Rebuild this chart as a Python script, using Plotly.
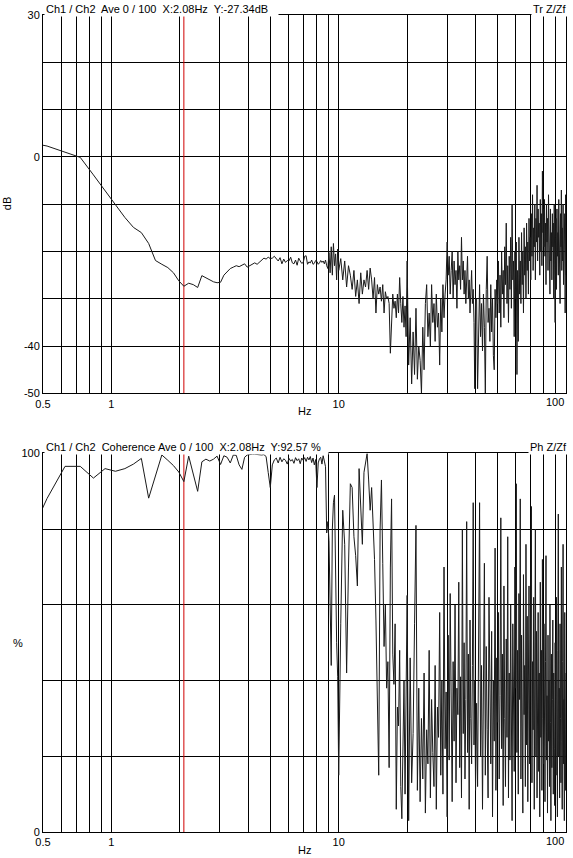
import numpy as np
import plotly.graph_objects as go

DF = 100 / 960  # analyser bin spacing, Hz

# transfer function magnitude (dB)
TR_LOW_DB = [  # bins 4..96, every bin
    3.2, 2.3, 1.0, -0.1, -3.8, -7.2, -10.0, -12.8, -14.9, -16.0,
    -18.3, -21.9, -22.7, -23.4, -24.5, -26.2, -27.34, -26.7, -27.0, -27.6,
    -25.1, -25.6, -26.1, -26.4, -26.6, -26.5, -25.0, -24.2, -23.6, -23.3,
    -23.0, -23.2, -22.9, -22.6, -23.3, -23.0, -22.6, -22.4, -22.7, -22.3,
    -21.9, -21.4, -21.6, -21.2, -21.5, -21.4, -21.0, -21.6, -22.0, -21.3,
    -22.6, -21.6, -22.3, -21.9, -22.0, -21.2, -22.4, -22.6, -21.8, -22.9,
    -21.4, -22.0, -22.5, -22.3, -21.0, -20.9, -22.7, -22.2, -22.4, -21.8,
    -22.7, -22.5, -21.9, -22.1, -22.7, -22.4, -21.9, -22.3, -22.0, -22.6,
    -21.8, -23.0, -23.6, -20.2, -24.5, -19.0, -25.0, -18.3, -23.0, -20.5,
    -26.0, -19.5, -24.0,
]
TR_MID_DB = [  # bins 98..192, every 2nd
    -21.5, -26, -22, -27.5, -23, -25, -28, -24, -29.5, -26,
    -31, -24.5, -29, -26, -27.5, -24, -28, -23.5, -26, -30,
    -25.5, -33, -27, -29, -27.5, -30.5, -27, -33, -28.5, -30,
    -29.5, -31, -41.5, -33, -29, -32, -30.5, -34, -29, -33,
    -25.5, -31, -35, -29.5, -36, -31.5, -38, -22,
]
TR_HI1_DB = [  # bins 195..384, every 3rd
    -44, -34, -48, -37, -46, -32, -47, -40, -43, -50, -36, -45, -31,
    -27, -38, -33, -40, -27, -35, -31, -39, -29, -36, -33, -44, -30,
    -37, -27, -34, -29, -26,
    -18, -25, -21, -29, -24, -20, -30, -22, -27, -24, -32, -20, -26,
    -23, -28, -17, -26, -22, -29, -24, -31, -25, -21, -30, -26, -33,
    -27, -24, -31, -28, -35, -49, -30,
]
TR_HI2_DB = [  # bins 388..960, every 4th
    -30, -49, -33, -27, -38, -31, -41, -29, -36, -50, -28, -21,
    -35, -32, -39, -27, -37, -30, -42, -45, -28, -34, -26, -31,
    -22, -33, -25, -36, -20, -29, -24, -34, -19, -27, -14, -31,
    -23, -35, -21, -28, -17, -32, -10, -26, -22, -38, -20, -30,
    -18, -46, -24, -39, -17, -29, -22, -31, -16, -27, -20, -33,
    -15, -25, -19, -30, -14, -24, -18, -29, -13, -22, -17, -26,
    -12, -21, -8, -24, -15, -19, -10, -26, -13, -18, -6, -22,
    -11, -17, -14, -25, -9, -20, -12, -23, -3, -16, -11, -19,
    -9, -21, -14, -27, -10, -18, -13, -24, -8, -20, -15, -29,
    -11, -22, -16, -26, -12, -19, -14, -30, -10, -23, -35, -17,
    -13, -28, -11, -21, -16, -25, -9, -23, -14, -31, -12, -19,
    -7, -24, -15, -22, -10, -27, -17, -20, -12, -33, -8, -25,
]

# coherence (%)
CO_LOW_PCT = [  # bins 4..96
    75.5, 88.1, 96.6, 96.6, 93.5, 96.0, 95.3, 96.0, 97.2, 98.7,
    88.2, 94.0, 99.6, 98.2, 96.8, 95.1, 92.57, 99.3, 94.5, 90.0,
    97.8, 98.5, 98.0, 98.5, 99.3, 97.1, 99.4, 99.0, 97.5, 99.6,
    99.5, 97.0, 95.8, 99.0, 99.6, 99.8, 99.8, 99.8, 99.7, 99.5,
    99.6, 99.7, 99.2, 95.0, 91.0, 97.0, 98.3, 98.8, 97.5, 99.0,
    97.8, 98.6, 98.2, 97.2, 98.7, 98.0, 98.4, 97.4, 98.9, 98.1,
    98.6, 97.3, 98.8, 98.2, 98.9, 97.9, 99.0, 98.3, 99.2, 97.6,
    98.8, 97.0, 98.4, 91.0, 97.5, 98.6, 99.0, 97.2, 99.4, 98.0,
    96.5, 79, 82, 77, 60, 44, 80, 87, 89, 62,
    50, 41, 15,
]
CO_MID_PCT = [  # bins 98..192, every 2nd
    55, 85, 76, 42, 70, 92, 91, 78, 73, 65,
    96, 84, 76, 95, 98, 100, 93, 85, 91, 81,
    72, 56, 30, 15, 80, 93, 71, 49, 60, 38,
    45, 17, 70, 88, 47, 39, 55, 6, 33, 28,
    48, 12, 3.5, 23, 40, 10, 35, 62.5,
]
CO_HI1_PCT = [  # bins 195..384, every 3rd
    3, 46, 13, 26, 55, 81, 11,
    38, 8, 30, 14, 42, 5, 27, 18, 48, 9, 35, 21, 12, 44, 6, 33, 25,
    58, 15, 40, 10, 70, 22, 37, 4,
    52, 19, 63, 28, 8, 45, 24, 60, 13, 38, 31, 66, 17, 41, 9, 80,
    26, 50, 14, 35, 82, 21, 47, 6, 56, 30, 18, 44, 87, 23, 40, 11,
]
CO_HI2_PCT = [  # bins 388..960, every 4th
    34, 12, 56, 87, 20, 44, 6, 38, 71, 15, 49, 27,
    9, 62, 31, 18, 53, 4, 40, 24, 75, 11, 46, 29,
    58, 14, 36, 83, 22, 47, 7, 65, 30, 12, 51, 25,
    78, 9, 42, 19, 60, 33, 3, 55, 28, 16, 70, 38,
    92, 21, 48, 10, 63, 35, 88, 14, 52, 26, 5, 68,
    31, 44, 12, 76, 23, 57, 8, 40, 65, 18, 34, 50,
    86, 13, 45, 27, 62, 6, 38, 80, 20, 53, 9, 33,
    58, 16, 42, 4, 66, 25, 48, 11, 72, 30, 18, 55,
    28, 8, 45, 73, 19, 36, 5, 52, 24, 40, 12, 60,
    29, 3, 47, 17, 35, 56, 10, 42, 22, 7, 50, 31,
    15, 62, 26, 4, 48, 84, 20, 38, 9, 55, 30, 13,
    70, 24, 6, 45, 76, 18, 35, 3, 58, 27, 11, 42,
]

SEGMENT_BINS = [(4, 96), (98, 192), (195, 384), (388, 960)]

CURSOR_HZ = 2.0833
GRID_HZ = [0.5, 0.6, 0.7, 0.8, 0.9, 1, 2, 3, 4, 5, 6, 7, 8, 9,
           10, 20, 30, 40, 50, 60, 70, 80, 90, 100]
HZ_LABELS = {0.5: "0.5", 1: "1", 10: "10"}
HZ_END_LABEL = "100"
DB_GRID = [-50, -40, -30, -20, -10, 0, 10, 20, 30]
DB_LABELS = {-50: "-50", -40: "-40", 0: "0", 30: "30"}
PCT_GRID = [0, 20, 40, 60, 80, 100]
PCT_LABELS = {0: "0", 100: "100"}

TOP_TITLE = "Ch1 / Ch2\u00a0 Ave 0 / 100\u00a0 X:2.08Hz\u00a0 Y:-27.34dB\u00a0\u00a0\u00a0"
BOT_TITLE = "Ch1 / Ch2\u00a0 Coherence Ave 0 / 100\u00a0 X:2.08Hz\u00a0 Y:92.57 %\u00a0\u00a0"
TOP_TAG = "Tr Z/Zf"
BOT_TAG = "Ph Z/Zf"

FONT = dict(family="Liberation Sans, Arial, sans-serif", size=11, color="#000000")


def build_freqs(parts):
    return np.concatenate([
        np.linspace(DF * a, DF * b, len(vals))
        for (a, b), vals in zip(SEGMENT_BINS, parts)
    ])


freq_tr = build_freqs([TR_LOW_DB, TR_MID_DB, TR_HI1_DB, TR_HI2_DB])
tr_db = np.concatenate([TR_LOW_DB, TR_MID_DB, TR_HI1_DB, TR_HI2_DB])
freq_co = build_freqs([CO_LOW_PCT, CO_MID_PCT, CO_HI1_PCT, CO_HI2_PCT])
co_pct = np.concatenate([CO_LOW_PCT, CO_MID_PCT, CO_HI1_PCT, CO_HI2_PCT])

fig = go.Figure()
for xa, ya, grid, xs, ys in [
    ("x", "y", DB_GRID, freq_tr, tr_db),
    ("x2", "y2", PCT_GRID, freq_co, co_pct),
]:
    fig.add_trace(go.Scatter(
        x=[CURSOR_HZ, CURSOR_HZ], y=[min(grid), max(grid)], mode="lines",
        line=dict(color="#d00000", width=1), xaxis=xa, yaxis=ya,
        hoverinfo="skip",
    ))
    fig.add_trace(go.Scatter(
        x=xs, y=ys, mode="lines", line=dict(color="#1a1a1a", width=1),
        xaxis=xa, yaxis=ya, hoverinfo="skip",
    ))

common = dict(
    showgrid=True, gridcolor="#000000", gridwidth=1,
    showline=True, linecolor="#000000", linewidth=1, mirror=True,
    ticks="", zeroline=False, tickfont=FONT,
)
xcommon = dict(
    type="log", range=[np.log10(0.5), 2], tickvals=GRID_HZ,
    ticktext=[HZ_LABELS.get(v, "") for v in GRID_HZ], **common,
)

fig.update_layout(
    width=573, height=858,
    margin=dict(l=43, r=7, t=15, b=26),
    paper_bgcolor="white", plot_bgcolor="white",
    showlegend=False, hovermode=False, font=FONT,
    xaxis=dict(anchor="y", **xcommon),
    yaxis=dict(anchor="x", domain=[0.5368, 1], range=[-50, 30],
               tickvals=DB_GRID,
               ticktext=[DB_LABELS.get(v, "") for v in DB_GRID], **common),
    xaxis2=dict(anchor="y2", **xcommon),
    yaxis2=dict(anchor="x2", domain=[0, 0.4633], range=[0, 100],
                tickvals=PCT_GRID,
                ticktext=[PCT_LABELS.get(v, "") for v in PCT_GRID], **common),
)

notes = []
for xr, yr, title, tag, ylab, rot, lab_shift in [
    ("x domain", "y domain", TOP_TITLE, TOP_TAG, "dB", -90, -36),
    ("x2 domain", "y2 domain", BOT_TITLE, BOT_TAG, "%", 0, -25),
]:
    notes += [
        dict(text=title, xref=xr, yref=yr, x=0, y=1, xanchor="left",
             yanchor="bottom", xshift=1, yshift=-2, bgcolor="white",
             borderpad=1, showarrow=False, font=FONT),
        dict(text=tag, xref=xr, yref=yr, x=1, y=1, xanchor="right",
             yanchor="bottom", xshift=3, yshift=-2, bgcolor="white",
             borderpad=1, showarrow=False, font=FONT),
        # last decade label sits flush with the right frame
        dict(text=HZ_END_LABEL, xref=xr, yref=yr, x=1, y=0, xanchor="right",
             yanchor="top", yshift=-1, showarrow=False, font=FONT),
        dict(text="Hz", xref=xr, yref=yr, x=0.5, y=0, yanchor="middle",
             yshift=-18, showarrow=False, font=FONT),
        dict(text=ylab, xref=xr, yref=yr, x=0, y=0.5, xanchor="center",
             xshift=lab_shift, textangle=rot, showarrow=False, font=FONT),
    ]
fig.update_layout(annotations=notes)

# the page's default body margin would push the figure off its 573x858 frame
fig.write_html(
    "out.html",
    config={"displayModeBar": False},
    post_script="document.body.style.margin = '0';",
)
